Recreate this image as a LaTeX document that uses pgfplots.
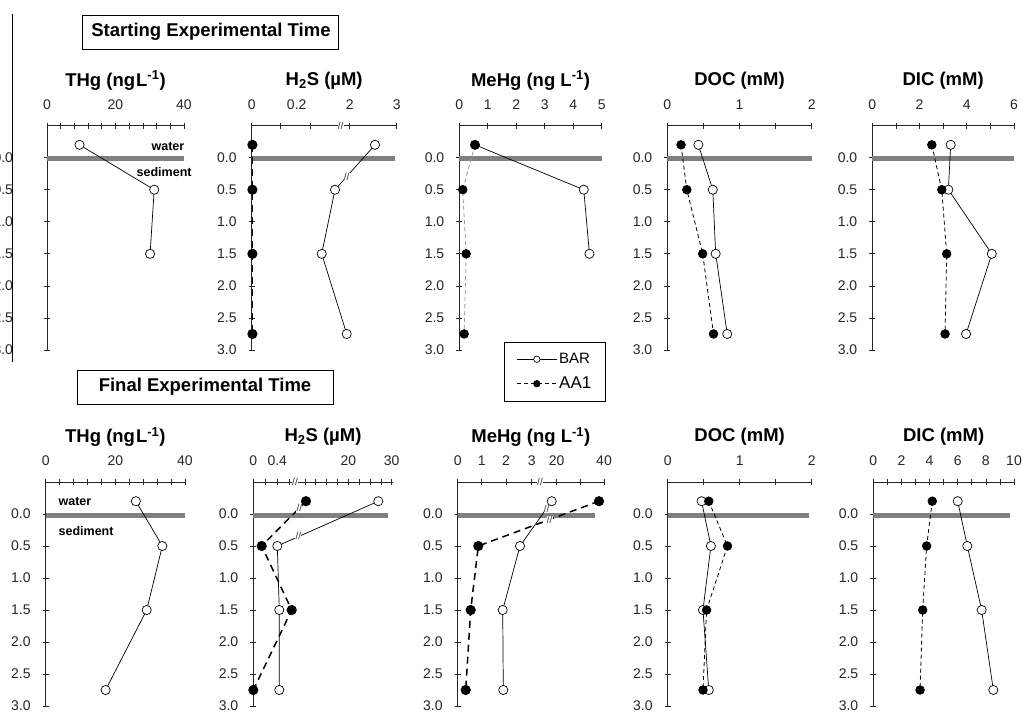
\documentclass[border=0pt]{standalone}
\usepackage{pgfplots}
\pgfplotsset{compat=1.18}
\usepackage{fontspec}
\setmainfont{Liberation Sans}
\newcommand\tkf{\fontsize{14}{16}\selectfont}
\newcommand\ttlf{\fontsize{18.5}{21}\selectfont\bfseries}
\newcommand\boxf{\fontsize{18.5}{21}\selectfont\bfseries}
\tikzset{
 brk/.style={fill=white, inner sep=0.3pt, font=\fontsize{10}{10}\selectfont, text=black!80},
 lbl/.style={font=\fontsize{12.5}{14}\selectfont\bfseries},
}
\pgfplotsset{
 panel/.style={scale only axis, clip=false,
  axis x line=top, axis y line=left,
  axis line style={-, black!85, line width=0.8pt},
  ymin=-3, ymax=0.5,
  ytick={-3,-2.5,-2,-1.5,-1,-0.5,0},
  yticklabels={3.0,2.5,2.0,1.5,1.0,0.5,0.0},
  tick align=center, major tick length=6pt, minor tick length=6pt,
  tick style={black!85, line width=0.7pt},
  ticklabel style={font=\tkf, text=black!85},
  yticklabel style={xshift=-8.5pt},
  xticklabel style={yshift=9.5pt},
  title style={font=\ttlf, at={(0.5,1)}, anchor=center, yshift=39pt},
  height=224.4pt},
 bar/.style={black, line width=0.7pt, mark=*, mark size=4.6pt,
  mark options={solid, fill=white, draw=black, line width=0.7pt}},
 aa/.style={black, line width=0.8pt, dash pattern=on 4pt off 3pt, mark=*, mark size=4.3pt,
  mark options={solid, fill=black}},
 aathick/.style={aa, line width=1.5pt, dash pattern=on 7pt off 5pt},
 band/.style={black!50, line width=5pt, forget plot},
}
\begin{document}
\begin{tikzpicture}[x=1pt,y=1pt]
\path[use as bounding box, clip] (0,0) rectangle (1022,713);
% frame line and boxes
\draw[black, line width=0.8pt] (12,351) -- (12,699);
\draw[black, line width=0.8pt] (82,664) rectangle (338,698);
\node[font=\boxf] at (211,681) {Starting Experimental Time};
\draw[black, line width=0.8pt] (77,309) rectangle (333,343);
\node[font=\boxf] at (205,326) {Final Experimental Time};

% ===== TOP ROW =====
\begin{axis}[panel, at={(47pt,363pt)}, anchor=south west, width=137pt,
  xmin=0, xmax=40, xtick={0,20,40}, xticklabels={0,20,40},
  minor xtick={4,8,12,16,24,28,32,36},
  yticklabel style={xshift=-19pt},
  title={THg (ng\kern1pt L\textsuperscript{-1})}]
\addplot[band] coordinates {(0,-0.02) (40,-0.02)};
\addplot[bar] coordinates {(9.5,0.2) (31.3,-0.5) (30.1,-1.5)};
\node[lbl] at (35.3,0.18) {water};
\node[lbl] at (34.2,-0.225) {sediment};
\end{axis}

% H2S top (broken axis: x in display units, 0-0.3 then 2-3)
\begin{axis}[panel, at={(251.7pt,363pt)}, anchor=south west, width=145pt,
  xmin=0, xmax=145, xtick={0,28.3,58.3,98,145}, xticklabels={0,,,2,3},
  extra x ticks={45}, extra x tick labels={0.2}, extra x tick style={tick style={draw=none}},
  title={H\textsubscript{2}S (\textmu M)}]
\addplot[band] coordinates {(0,-0.02) (143,-0.02)};
\addplot[bar] coordinates {(123.3,0.2) (83.3,-0.5) (70,-1.5) (95,-2.75)};
\addplot[aathick] coordinates {(0.7,0.2) (0.7,-0.5) (0.7,-1.5) (0.7,-2.75)};
\node[brk] at (89,0.5) {//};
\node[brk] at (95,-0.3) {//};
\end{axis}

\begin{axis}[panel, at={(459.3pt,363pt)}, anchor=south west, width=142.4pt,
  xmin=0, xmax=5, xtick={0,1,2,3,4,5}, xticklabels={0,1,2,3,4,5},
  title={MeHg (ng L\textsuperscript{-1})},
  legend style={at={(0.314,0.036)}, anchor=north west, draw=black, line width=0.8pt,
   fill=white, font=\fontsize{15}{17}\selectfont, row sep=8pt, inner xsep=12pt, inner ysep=9pt,
   cells={anchor=west}},
  legend image code/.code={\draw[mark repeat=2,mark phase=2,#1] plot coordinates {(0pt,0pt) (20pt,0pt) (40pt,0pt)};}]
\addlegendimage{black, line width=0.7pt, mark=*, mark size=3.2pt, mark options={solid, fill=white, draw=black}}
\addlegendentry{BAR}
\addlegendimage{black, line width=0.8pt, dash pattern=on 4pt off 3pt, mark=*, mark size=3.2pt, mark options={solid, fill=black}}
\addlegendentry{\fontsize{17}{19}\selectfont AA1}
\addplot[band] coordinates {(0,-0.02) (5,-0.02)};
\addplot[bar, forget plot] coordinates {(0.55,0.2) (4.37,-0.5) (4.57,-1.5)};
\addplot[aa, forget plot, black!40, mark options={solid, fill=black, draw=black}] coordinates {(0.55,0.2) (0.12,-0.5) (0.24,-1.5) (0.17,-2.75)};
\end{axis}

\begin{axis}[panel, at={(667.3pt,363pt)}, anchor=south west, width=144.4pt,
  xmin=0, xmax=2, xtick={0,1,2}, xticklabels={0,1,2}, minor xtick={0.5,1.5},
  title={DOC (mM)}]
\addplot[band] coordinates {(0,-0.02) (2,-0.02)};
\addplot[bar] coordinates {(0.43,0.2) (0.63,-0.5) (0.67,-1.5) (0.83,-2.75)};
\addplot[aa] coordinates {(0.19,0.2) (0.27,-0.5) (0.49,-1.5) (0.64,-2.75)};
\end{axis}

\begin{axis}[panel, at={(872.3pt,363pt)}, anchor=south west, width=141.7pt,
  xmin=0, xmax=6, xtick={0,2,4,6}, xticklabels={0,2,4,6}, minor xtick={1,3,5},
  title={DIC (mM)}]
\addplot[band] coordinates {(0,-0.02) (6,-0.02)};
\addplot[bar] coordinates {(3.32,0.2) (3.22,-0.5) (5.06,-1.5) (3.97,-2.75)};
\addplot[aa] coordinates {(2.52,0.2) (2.94,-0.5) (3.15,-1.5) (3.08,-2.75)};
\end{axis}

% ===== BOTTOM ROW =====
\begin{axis}[panel, at={(45.7pt,7pt)}, anchor=south west, width=139.3pt, height=224pt,
  xmin=0, xmax=40, xtick={0,20,40}, xticklabels={0,20,40},
  minor xtick={4,8,12,16,24,28,32,36},
  title={THg (ng\kern1pt L\textsuperscript{-1})}]
\addplot[band] coordinates {(0,-0.02) (40,-0.02)};
\addplot[bar] coordinates {(25.9,0.2) (33.5,-0.5) (29,-1.5) (17.2,-2.75)};
\node[lbl] at (8.4,0.2) {water};
\node[lbl] at (11.6,-0.26) {sediment};
\end{axis}

% H2S bottom (broken axis: display units, 0-0.7 then ~8-30)
\begin{axis}[panel, at={(253.3pt,7pt)}, anchor=south west, width=139.4pt, height=224pt,
  xmin=0, xmax=139.4,
  xtick={0,12,24,36,51.6,62.4,73.3,84.2,95,105.9,116.7,127.6,138.4},
  xticklabels={0,,0.4,,,,,,20,,,,30},
  title={H\textsubscript{2}S (\textmu M)}]
\addplot[band] coordinates {(0,-0.02) (135,-0.02)};
\addplot[bar] coordinates {(125,0.2) (24,-0.5) (26,-1.5) (26,-2.75)};
\addplot[aathick] coordinates {(52.7,0.2) (8.4,-0.5) (38.4,-1.5) (0,-2.75)};
\node[brk] at (41.7,0.5) {//};
\node[brk] at (46,0.1) {//};
\node[brk] at (45,-0.35) {//};
\end{axis}

% MeHg bottom (broken axis: display units, 0-3 then 20-40)
\begin{axis}[panel, at={(457.7pt,7pt)}, anchor=south west, width=146.3pt, height=224pt,
  xmin=0, xmax=146.3,
  xtick={0,24,48.3,74,99,122.7,146.3},
  xticklabels={0,1,2,3,20,,40},
  title={MeHg (ng L\textsuperscript{-1})}]
\addplot[band] coordinates {(0,-0.02) (137.3,-0.02)};
\addplot[bar] coordinates {(94,0.2) (62.3,-0.5) (45,-1.5) (45.6,-2.75)};
\addplot[aathick] coordinates {(141.3,0.2) (20.6,-0.5) (13,-1.5) (8,-2.75)};
\node[brk] at (82.3,0.5) {//};
\node[brk] at (89,0.08) {//};
\node[brk] at (92,-0.09) {//};
\end{axis}

\begin{axis}[panel, at={(667.7pt,7pt)}, anchor=south west, width=144pt, height=224pt,
  xmin=0, xmax=2, xtick={0,1,2}, xticklabels={0,1,2}, minor xtick={0.5,1.5},
  title={DOC (mM)}]
\addplot[band] coordinates {(0,-0.02) (1.96,-0.02)};
\addplot[bar] coordinates {(0.47,0.2) (0.60,-0.5) (0.49,-1.5) (0.57,-2.75)};
\addplot[aa] coordinates {(0.57,0.2) (0.83,-0.5) (0.54,-1.5) (0.49,-2.75)};
\end{axis}

\begin{axis}[panel, at={(873.3pt,7pt)}, anchor=south west, width=140.7pt, height=224pt,
  xmin=0, xmax=10, xtick={0,2,4,6,8,10}, xticklabels={0,2,4,6,8,10}, minor xtick={1,3,5,7,9},
  title={DIC (mM)}]
\addplot[band] coordinates {(0,-0.02) (9.7,-0.02)};
\addplot[bar] coordinates {(6.0,0.2) (6.68,-0.5) (7.7,-1.5) (8.53,-2.75)};
\addplot[aa] coordinates {(4.19,0.2) (3.79,-0.5) (3.51,-1.5) (3.32,-2.75)};
\end{axis}
\end{tikzpicture}
\end{document}
